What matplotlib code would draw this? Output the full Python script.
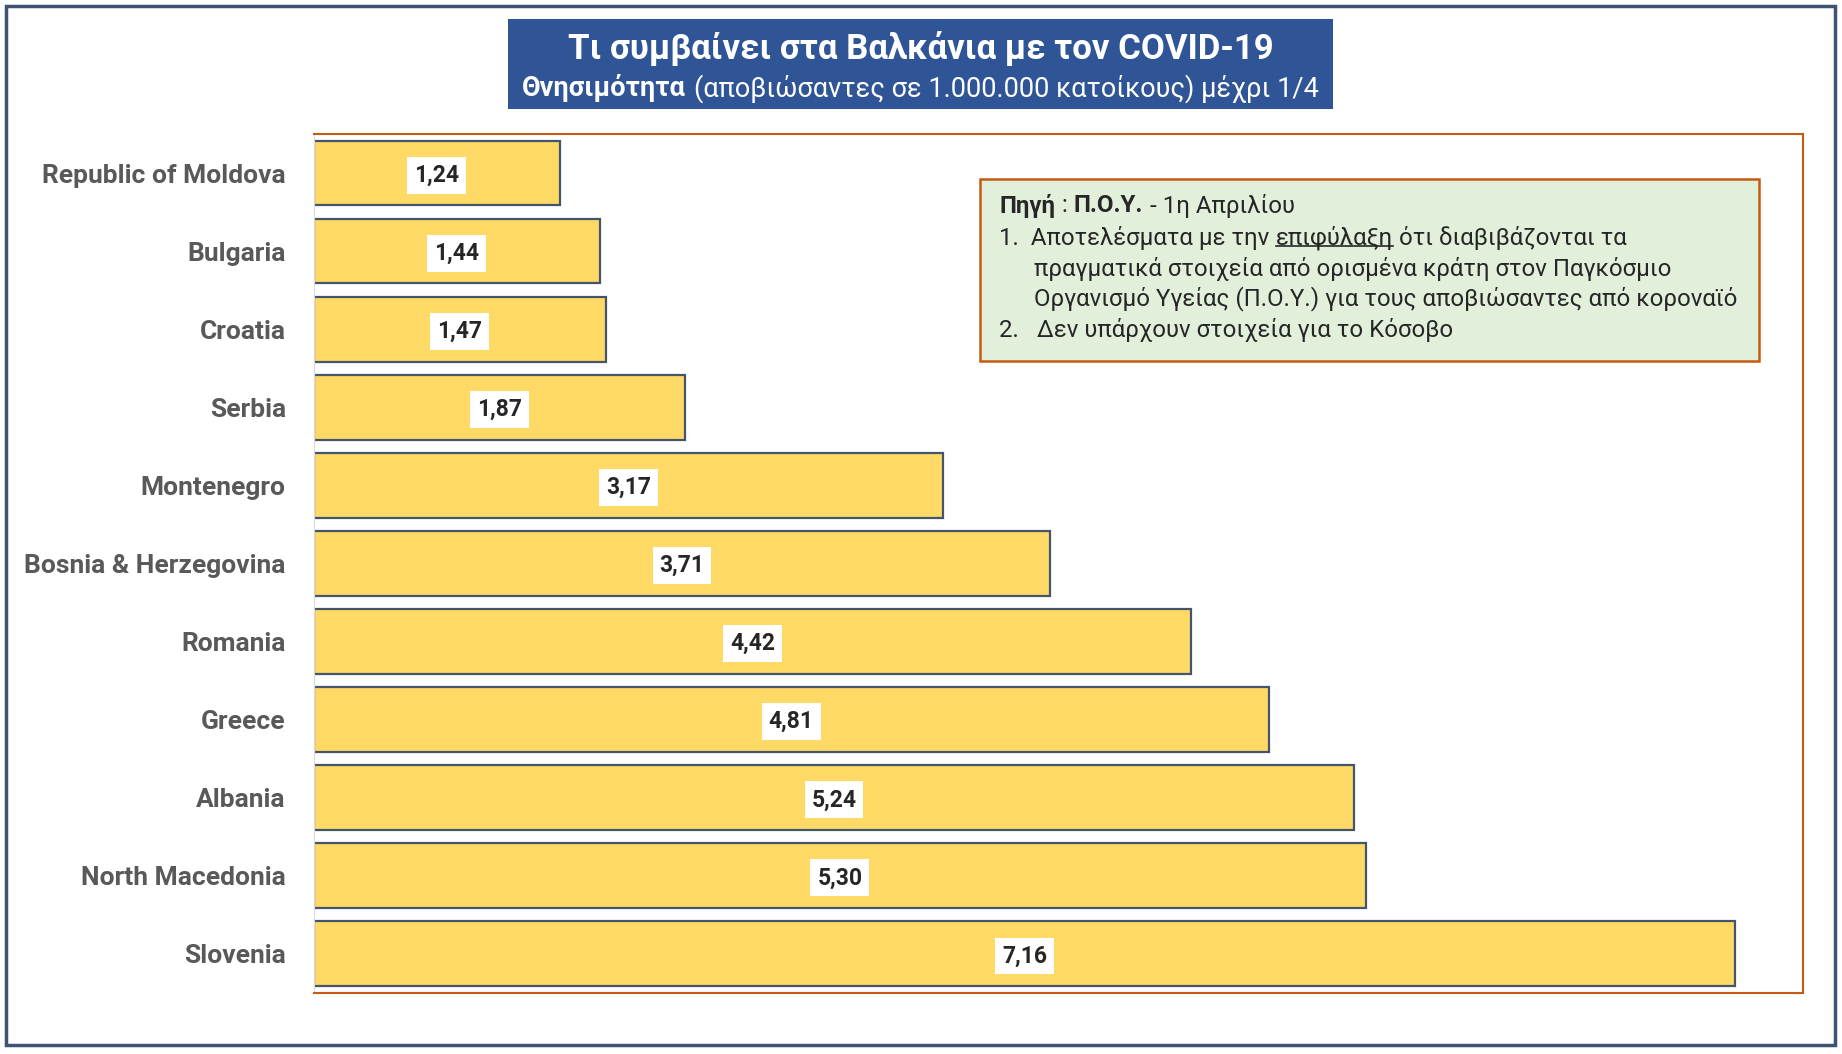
import matplotlib
matplotlib.use("Agg")
import matplotlib.pyplot as plt
from matplotlib.patches import Rectangle
from matplotlib.lines import Line2D

plt.rcParams["font.family"] = ["Roboto", "DejaVu Sans"]

countries = [
    "Republic of Moldova", "Bulgaria", "Croatia", "Serbia", "Montenegro",
    "Bosnia & Herzegovina", "Romania", "Greece", "Albania", "North Macedonia",
    "Slovenia",
]
deaths_per_million = [1.24, 1.44, 1.47, 1.87, 3.17, 3.71, 4.42, 4.81, 5.24, 5.30, 7.16]

title_line1 = "Τι συμβαίνει στα Βαλκάνια με τον COVID-19"
title_line2 = [("Θνησιμότητα", "bold"),
               ("(αποβιώσαντες σε 1.000.000 κατοίκους) μέχρι 1/4", "normal")]

note_lines = [
    [("Πηγή", "bold", False), (":", "normal", False), ("Π.Ο.Υ.", "bold", False),
     ("- 1η Απριλίου", "normal", False)],
    [("1.  Αποτελέσματα με την", "normal", False), ("επιφύλαξη", "normal", True),
     ("ότι διαβιβάζονται τα", "normal", False)],
    [("πραγματικά στοιχεία από ορισμένα κράτη στον Παγκόσμιο", "normal", False)],
    [("Οργανισμό Υγείας (Π.Ο.Υ.) για τους αποβιώσαντες από κοροναϊό", "normal", False)],
    [("2.   Δεν υπάρχουν στοιχεία για το Κόσοβο", "normal", False)],
]
note_x = [999, 999, 1034, 1034, 999]
note_y = [206, 238, 269, 299, 330]

W, H = 1842, 1054
fig = plt.figure(figsize=(W / 100, H / 100), dpi=100)
renderer = fig.canvas.get_renderer()

# outer frame
fig.patches.append(Rectangle((6 / W, 1 - 1045 / H), 1829 / W, 1039 / H,
                             transform=fig.transFigure, fill=False,
                             edgecolor="#3F5175", linewidth=2.5))

ax = fig.add_axes([313.6 / W, 1 - 992.6 / H, (1803 - 313.6) / W, (992.6 - 134) / H])
y = list(range(len(countries)))
ax.barh(y, deaths_per_million, height=0.83, color="#FFD966",
        edgecolor="#44546A", linewidth=1.6)
ax.set_xlim(0, 7.5)
ax.set_ylim(len(countries) - 0.5, -0.5)
ax.set_yticks(y, countries)
ax.set_xticks([])
ax.tick_params(axis="y", length=0, pad=20, labelsize=19, labelcolor="#595959")
for lab in ax.get_yticklabels():
    lab.set_fontweight("bold")
for side in ["top", "right", "bottom"]:
    ax.spines[side].set_color("#C55A11")
    ax.spines[side].set_linewidth(1.5)
ax.spines["left"].set_color("#D9D9D9")

for i, v in enumerate(deaths_per_million):
    ax.text(v / 2, i + 0.03, f"{v:.2f}".replace(".", ","), ha="center", va="center",
            fontsize=16.5, fontweight="bold", color="#262626",
            bbox=dict(facecolor="white", edgecolor="none", pad=5))

# title box
fig.patches.append(Rectangle((507.5 / W, 1 - 109.2 / H), (1333.3 - 507.5) / W, 90.4 / H,
                             transform=fig.transFigure, facecolor="#2F5597",
                             edgecolor="none"))
cx = (507.5 + 1333.3) / 2
fig.text(cx / W, 1 - 49 / H, title_line1, ha="center", va="center",
         fontsize=25, fontweight="bold", color="white")


def put_pieces(pieces, x_px, y_px, size, color, center=False):
    gap = 0.27 * size * 100 / 72
    texts = []
    widths = []
    for p in pieces:
        t = fig.text(0, 1 - y_px / H, p[0], ha="left", va="center",
                     fontsize=size, fontweight=p[1], color=color)
        texts.append(t)
        widths.append(t.get_window_extent(renderer).width)
    total = sum(widths) + gap * (len(pieces) - 1)
    x = x_px - total / 2 if center else x_px
    for p, t, w in zip(pieces, texts, widths):
        t.set_x(x / W)
        if len(p) > 2 and p[2]:
            bb = t.get_window_extent(renderer)
            yl = bb.y0 + 0.18 * bb.height
            fig.lines.append(Line2D([bb.x0 / W, bb.x1 / W], [yl / H, yl / H],
                                    transform=fig.transFigure, color=color,
                                    linewidth=1.2))
        x += w + gap


put_pieces(title_line2, cx, 88.5, 19.5, "white", center=True)

# note box
fig.patches.append(Rectangle((980 / W, 1 - 360.6 / H), 779 / W, 182.1 / H,
                             transform=fig.transFigure, facecolor="#E2EFDA",
                             edgecolor="#C55A11", linewidth=1.8))
for line, xp, yp in zip(note_lines, note_x, note_y):
    put_pieces(line, xp, yp, 17.3, "#262626")

fig.savefig("out.png", dpi=100)
